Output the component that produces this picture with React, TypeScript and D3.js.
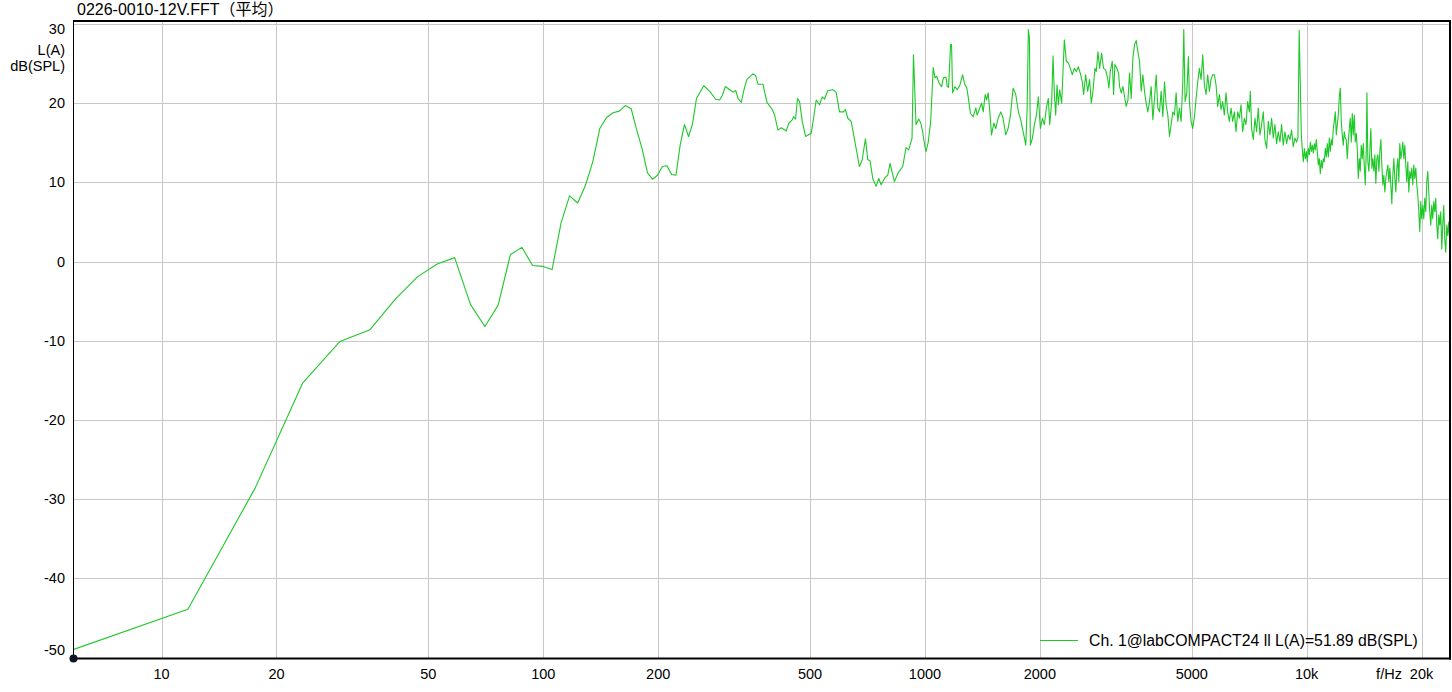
import React from 'react';
import * as d3 from 'd3';

const TITLE = '0226-0010-12V.FFT（平均）';
const Y_UNIT = ['L(A)', 'dB(SPL)'];
const Y_TICKS = [30, 20, 10, 0, -10, -20, -30, -40, -50];
const X_TICKS = [10, 20, 50, 100, 200, 500, 1000, 2000, 5000, 10000, 20000];
const X_TICK_LABELS = ['10', '20', '50', '100', '200', '500', '1000', '2000', '5000', '10k', '20k'];
const X_UNIT = 'f/Hz';
const LEGEND = 'Ch. 1@labCOMPACT24 ll L(A)=51.89 dB(SPL)';

// frequency (Hz) of each point
const FREQ = [
  5.86, 11.72, 17.58, 23.44, 29.3, 35.16, 41.02, 46.88, 52.73, 58.59, 64.45, 70.31, 76.17, 82.03, 87.89, 93.75,
  99.61, 105.47, 111.33, 117.19, 123.05, 128.91, 134.77, 140.63, 146.48, 152.34, 158.2, 164.06, 169.92, 175.78,
  181.64, 187.5, 193.36, 199.22, 205.08, 210.94, 216.8, 222.66, 228.52, 234.38, 240.23, 246.09, 251.95,
  263.3, 273, 283, 289.9, 294.6, 299.9, 307.9, 314.1, 319.2, 324.4, 330.3, 335.6, 341.7, 354.3, 360, 365.1, 376.3,
  385.5, 398.1, 403.7, 411.9, 420.2, 433.1, 440.1, 449, 452.7, 458.1, 463.6, 469.3, 476.9, 486.6, 503.5, 510.6,
  518.8, 529.4, 537.9, 545.5, 556.6, 573.6, 585.2, 597.1, 611.7, 619, 627.8, 640.5, 647, 660.1, 673.4, 684.4,
  698.2, 708.1, 718.2, 729.8, 744.6, 756.7, 767.4, 786, 798.8, 810.1, 831.5, 848.5, 874.3, 892.1, 906.6, 925,
  933, 947.5, 962.9, 975, 986, 1000, 1006, 1020, 1035,
  1051, 1062, 1073, 1090, 1106, 1117, 1135, 1144, 1153, 1167, 1174, 1181, 1198, 1215, 1235, 1255, 1272, 1285,
  1298, 1316, 1338, 1359, 1370, 1387, 1407, 1421, 1438, 1450, 1464, 1479, 1494, 1515, 1533, 1555, 1580, 1602,
  1628, 1651, 1675, 1702, 1729, 1757, 1782, 1815, 1837, 1852, 1866, 1878, 1889, 1912, 1935, 1959, 1982, 2006,
  2031, 2055, 2080, 2105, 2122, 2148, 2165, 2183, 2200, 2218, 2236, 2254, 2281, 2318, 2346, 2375, 2403, 2432,
  2462, 2492, 2522, 2552, 2583, 2604, 2636, 2668, 2700, 2727, 2755, 2788, 2811, 2839, 2868, 2902, 2937, 2973,
  3009, 3033, 3058, 3095, 3120, 3145, 3183, 3215,
  3235, 3268, 3301, 3334, 3368, 3402, 3436, 3470, 3505, 3541, 3576, 3612, 3649, 3685, 3723, 3760, 3798, 3836,
  3875, 3914, 3954, 3994, 4034, 4075, 4116, 4157, 4199, 4242, 4284, 4328, 4371, 4415, 4460, 4505, 4550, 4596,
  4642, 4689, 4737, 4765, 4803, 4851, 4901, 4930, 4980, 5030, 5081, 5132, 5184, 5236, 5289, 5342, 5396, 5450,
  5505, 5561, 5617, 5674, 5731, 5789, 5847, 5906, 5966, 6026, 6087, 6148, 6210, 6273, 6336, 6400, 6465, 6530,
  6596, 6662, 6729, 6797, 6866, 6935, 7005, 7076, 7118, 7175, 7248, 7321, 7395, 7469, 7545, 7621, 7698, 7775,
  7854, 7933, 8013, 8094, 8176, 8258, 8342, 8426, 8511, 8597, 8684, 8771, 8860, 8949, 9040, 9131, 9223, 9316,
  9410, 9486, 9560,
  9684, 9743, 9802, 9861, 9921, 9981, 10040, 10101, 10162, 10224, 10285, 10347, 10410, 10473, 10536, 10600,
  10664, 10728, 10793, 10858, 10924, 10990, 11056, 11123, 11190, 11258, 11326, 11394, 11463, 11532, 11602,
  11672, 11742, 11813, 11885, 11957, 12029, 12102, 12175, 12248, 12322, 12397, 12472, 12547, 12623, 12699,
  12776, 12853, 12931, 13009, 13088, 13167, 13246, 13326, 13407, 13488, 13570, 13652, 13734, 13817, 13901,
  13985, 14069, 14154, 14240, 14326, 14384, 14466, 14553, 14641, 14730, 14819, 14908, 14998, 15089, 15180,
  15272, 15364, 15457, 15550, 15644, 15739, 15834, 15930, 16026, 16123, 16220, 16318, 16417, 16516, 16616,
  16716, 16817, 16919, 17021, 17124, 17227, 17331, 17436, 17541, 17647, 17754, 17861, 17969, 18078, 18187,
  18297, 18407, 18519, 18631, 18743, 18856, 18970, 19085, 19200, 19316, 19433, 19550, 19668, 19787, 19907,
  20027, 20148, 20270, 20392, 20516, 20640, 20764, 20890, 21016, 21143, 21271, 21399, 21529, 21659, 21790,
  21921, 22054, 22187, 22321, 22456, 22592, 22728, 22866, 23004, 23143, 23283, 23423, 23565, 23707,
];

// level in dB(SPL), A-weighted
const LEVEL = [
  -49.0, -43.9, -28.6, -15.3, -10.1, -8.6, -4.7, -1.9, -0.3, 0.5, -5.4, -8.2, -5.5, 0.9, 1.8, -0.5,
  -0.6, -1.0, 4.9, 8.3, 7.4, 9.6, 12.6, 16.8, 18.2, 18.8, 19.0, 19.7, 19.3, 16.6,
  14.2, 11.2, 10.4, 10.9, 12.0, 12.1, 11.0, 10.9, 14.8, 17.3, 15.8, 17.4, 20.6,
  22.2, 21.5, 20.5, 20.4, 21.0, 22.1, 21.7, 21.4, 21.6, 20.5, 20.1, 21.7, 23.0, 23.7, 23.5, 22.4, 22.4,
  20.1, 19.2, 18.5, 16.6, 16.9, 16.5, 17.5, 17.9, 18.3, 18.0, 20.6, 20.2, 17.7, 15.8, 16.2, 18.1,
  20.4, 19.8, 20.8, 20.5, 21.6, 21.7, 21.4, 18.9, 18.9, 19.2, 18.1, 17.7, 16.6, 14.3, 12.0, 12.8,
  15.5, 12.9, 12.7, 10.5, 9.5, 10.5, 9.7, 10.6, 10.9, 12.4, 10.1, 11.1, 12.0, 14.4, 14.1, 15.6,
  26.1, 17.3, 18.0, 17.5, 16.4, 14.5, 13.9, 15.1, 17.7,
  24.5, 23.2, 23.4, 22.5, 22.1, 23.2, 23.3, 22.1, 22.0, 27.4, 27.4, 21.3, 22.1, 21.7, 22.3, 23.6, 22.3, 22.1,
  20.8, 18.7, 18.3, 19.4, 18.5, 19.2, 20.0, 18.9, 21.1, 20.4, 21.3, 18.9, 16.0, 17.5, 16.8, 18.1, 18.9, 18.1,
  16.0, 16.8, 18.5, 21.9, 21.1, 18.9, 17.9, 16.0, 14.7, 19.4, 29.3, 28.2, 14.7, 15.6, 17.3, 18.5, 20.8, 16.8,
  18.1, 17.3, 19.4, 20.6, 17.3, 20.2, 26.0, 21.1, 18.5, 22.3, 19.8, 21.7, 20.0, 28.0, 25.3, 25.1, 24.4, 23.6,
  24.4, 24.0, 24.6, 23.8, 22.7, 21.1, 23.6, 21.5, 23.0, 20.0, 21.5, 24.4, 24.0, 26.5, 24.4, 26.3, 24.4, 24.2,
  23.2, 21.9, 24.0, 25.3, 21.1, 24.9, 24.4, 23.8,
  22.1, 21.3, 22.1, 20.8, 19.6, 20.4, 23.8, 20.6, 25.7, 27.4, 27.9, 26.5, 25.3, 21.5, 23.6, 21.5, 20.0, 18.9,
  20.2, 22.1, 17.9, 20.6, 23.6, 19.4, 18.9, 21.5, 18.3, 22.7, 19.8, 18.5, 15.8, 17.3, 18.9, 18.5, 21.3, 17.7,
  19.4, 17.7, 22.7, 29.3, 20.2, 21.3, 25.9, 20.2, 17.7, 16.8, 18.3, 20.6, 22.7, 24.4, 23.0, 26.1, 22.3, 21.1,
  23.6, 21.5, 23.0, 23.6, 23.6, 22.3, 19.6, 21.1, 19.2, 20.2, 18.5, 21.3, 18.9, 17.7, 19.4, 17.7, 18.9, 16.4,
  18.9, 18.1, 19.8, 16.4, 18.1, 17.3, 20.2, 18.9, 21.5, 16.8, 15.4, 18.1, 16.4, 19.4, 16.0, 17.3, 18.9, 15.4,
  14.3, 17.7, 16.0, 18.1, 15.6, 17.3, 14.9, 16.4, 15.1, 17.3, 14.7, 16.4, 14.9, 16.0, 15.4, 16.6, 14.5, 15.6,
  15.1, 15.6, 29.2,
  16.0, 14.1, 12.6, 14.3, 13.0, 13.9, 12.6, 14.3, 13.5, 15.1, 13.9, 14.7, 13.7, 14.9, 14.1, 15.4,
  13.9, 12.2, 13.0, 11.1, 12.8, 11.8, 13.0, 12.6, 14.3, 13.2, 14.9, 13.2, 15.6, 13.9, 15.4,
  14.7, 16.8, 17.7, 18.9, 16.0, 17.3, 18.5, 20.8, 21.9, 17.7, 16.0, 14.7, 16.4, 15.6, 15.4,
  13.0, 15.1, 16.8, 18.1, 15.1, 18.7, 16.0, 18.5, 15.1, 16.2, 14.3, 10.5, 13.0, 11.4, 14.7,
  13.0, 14.9, 12.2, 9.7, 13.9, 21.3, 12.6, 11.4, 13.9, 16.8, 11.8, 13.0, 11.4, 13.5, 9.9,
  13.0, 13.5, 11.4, 13.9, 15.4, 12.2, 9.7, 10.9, 8.8, 10.5, 11.4, 12.2, 10.1, 11.8, 9.7,
  7.3, 10.9, 13.0, 10.5, 8.8, 11.8, 13.0, 10.1, 14.9, 13.0, 13.9, 15.1, 13.0, 14.7, 12.2,
  10.1, 12.6, 8.8, 11.4, 10.5, 11.8, 9.7, 12.2, 10.5, 11.8, 9.7, 8.4, 6.3, 3.8, 7.6,
  5.4, 7.1, 5.4, 8.0, 6.3, 10.1, 11.4, 8.8, 6.3, 4.6, 7.1, 5.4, 7.6, 6.3, 8.0,
  4.6, 2.9, 5.9, 4.6, 6.3, 1.6, 4.6, 7.1, 2.9, 1.2, 4.6, 3.3, 5.0, 2.5,
];

const W = 1452;
const H = 692;
const PL = 73;
const PR = 1449;
const PT = 20;
const PB = 658.5;
const FONT = '"Liberation Sans", Arial, "Noto Sans CJK SC", sans-serif';
const GREEN = '#1ec828';

export default function App() {
  const x = d3.scaleLog().domain([5.86, 23600]).range([PL, PR]);
  const y = d3.scaleLinear().domain([-50, 30]).range([657.6, 24]);
  const pts: [number, number][] = FREQ.map((f, i) => [f, LEVEL[i]]);
  const line = d3
    .line<[number, number]>()
    .x((d) => x(d[0]))
    .y((d) => y(d[1]));

  const yLabelBaseline = (v: number) => {
    if (v === 30) return y(v) + 9.5;
    if (v === -50) return y(v) - 2.5;
    return y(v) + 5;
  };

  return (
    <svg
      width={W}
      height={H}
      style={{ position: 'absolute', left: 0, top: 0, background: '#fff' }}
      fontFamily={FONT}
      fontSize={14.5}
    >
      <rect x={0} y={0} width={W} height={H} fill="#fff" />
      <defs>
        <clipPath id="plotclip">
          <rect x={PL} y={PT} width={PR - PL} height={PB - PT} />
        </clipPath>
      </defs>
      {/* grid */}
      {Y_TICKS.map((v) => (
        <line key={'gy' + v} x1={PL} x2={PR + 1} y1={Math.round(y(v)) + 0.5} y2={Math.round(y(v)) + 0.5} stroke="#c8c8c8" strokeWidth={1} />
      ))}
      {X_TICKS.map((f) => (
        <line key={'gx' + f} x1={Math.round(x(f)) + 0.5} x2={Math.round(x(f)) + 0.5} y1={PT} y2={PB} stroke="#c8c8c8" strokeWidth={1} />
      ))}
      {/* data */}
      <path d={line(pts) || ''} fill="none" stroke={GREEN} strokeWidth={1.1} strokeLinejoin="round" clipPath="url(#plotclip)" />
      {/* frame */}
      <line x1={PL + 0.5} x2={PL + 0.5} y1={PT} y2={PB + 1} stroke="#000" strokeWidth={1} />
      <line x1={PL} x2={PR + 2} y1={PT + 1} y2={PT + 1} stroke="#000" strokeWidth={2} />
      <line x1={PR + 1} x2={PR + 1} y1={PT} y2={PB + 1} stroke="#000" strokeWidth={2} />
      <line x1={PL} x2={PR + 2} y1={PB} y2={PB} stroke="#000" strokeWidth={2} />
      <circle cx={PL + 0.5} cy={PB} r={4} fill="#0b1526" />
      {/* y labels */}
      {Y_TICKS.map((v) => (
        <text key={'ly' + v} x={65} y={yLabelBaseline(v)} textAnchor="end" fill="#000">
          {String(v)}
        </text>
      ))}
      <text x={65} y={55} textAnchor="end" fill="#000">{Y_UNIT[0]}</text>
      <text x={65} y={71} textAnchor="end" fill="#000">{Y_UNIT[1]}</text>
      {/* x labels */}
      {X_TICKS.map((f, i) => (
        <text key={'lx' + f} x={x(f)} y={679} textAnchor="middle" fill="#000">
          {X_TICK_LABELS[i]}
        </text>
      ))}
      <text x={1389} y={679} textAnchor="middle" fill="#000">{X_UNIT}</text>
      {/* title */}
      <text x={77} y={14.5} fontSize={16} fill="#000">{TITLE}</text>
      {/* legend */}
      <line x1={1040} x2={1078} y1={640.5} y2={640.5} stroke={GREEN} strokeWidth={1} />
      <text x={1089} y={646} fontSize={15.8} fill="#000">{LEGEND}</text>
    </svg>
  );
}
